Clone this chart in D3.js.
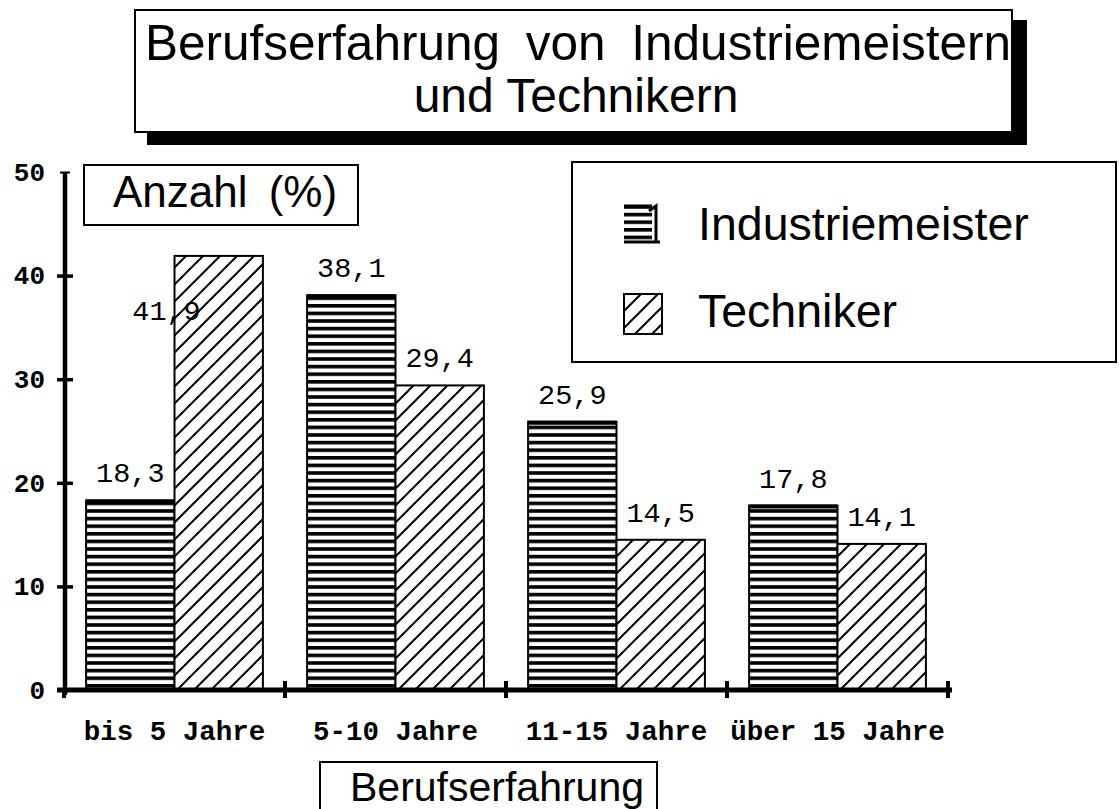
<!DOCTYPE html>
<html>
<head>
<meta charset="utf-8">
<script src="https://cdn.jsdelivr.net/npm/d3@7"></script>
<style>
html,body{margin:0;padding:0;background:#fff;}
svg{display:block;}
</style>
</head>
<body>
<svg id="chart" width="1119" height="809"></svg>
<script>
// ---- data ----
const categories = ["bis 5 Jahre", "5-10 Jahre", "11-15 Jahre", "über 15 Jahre"];
const seriesNames = ["Industriemeister", "Techniker"];
const industriemeister = [18.3, 38.1, 25.9, 17.8];
const techniker = [41.9, 29.4, 14.5, 14.1];
const yTicks = [0, 10, 20, 30, 40, 50];
const titleLines = ["Berufserfahrung von Industriemeistern", "und Technikern"];
const yTitle = "Anzahl (%)";
const xTitle = "Berufserfahrung";

const svg = d3.select("#chart");
const fmt = d3.formatLocale({decimal: ",", thousands: ".", grouping: [3], currency: ["", "€"]}).format(".1f");

// ---- patterns ----
const defs = svg.append("defs");
const ph = defs.append("pattern").attr("id", "hstripe")
  .attr("patternUnits", "userSpaceOnUse").attr("width", 8).attr("height", 7.6);
ph.append("rect").attr("width", 8).attr("height", 7.6).attr("fill", "#fff");
ph.append("rect").attr("y", 0).attr("width", 8).attr("height", 3.6).attr("fill", "#000");

const pd = defs.append("pattern").attr("id", "diag")
  .attr("patternUnits", "userSpaceOnUse").attr("width", 17).attr("height", 17);
pd.append("rect").attr("width", 17).attr("height", 17).attr("fill", "#fff");
pd.append("path").attr("d", "M-4,4 L4,-4 M0,17 L17,0 M13,21 L21,13")
  .attr("stroke", "#000").attr("stroke-width", 2);

const fills = ["url(#hstripe)", "url(#diag)"];

// ---- scales ----
const x0 = d3.scaleBand().domain(categories).range([64, 948]).paddingInner(0.2).paddingOuter(0.1);
const x1 = d3.scaleBand().domain(seriesNames).range([0, x0.bandwidth()]);
const y = d3.scaleLinear().domain([0, 50]).range([690, 172]);

const rows = categories.map((c, i) => ({cat: c, vals: [industriemeister[i], techniker[i]]}));

// ---- title box ----
svg.append("rect").attr("x", 147).attr("y", 20).attr("width", 880).attr("height", 125).attr("fill", "#000");
svg.append("rect").attr("x", 135).attr("y", 10).attr("width", 877).attr("height", 122)
  .attr("fill", "#fff").attr("stroke", "#000").attr("stroke-width", 2);
svg.append("text").attr("x", 578).attr("y", 60).attr("text-anchor", "middle")
  .attr("font-family", "Liberation Sans, Arial, sans-serif").attr("font-size", 49.5)
  .attr("word-spacing", 12).text(titleLines[0]);
svg.append("text").attr("x", 576).attr("y", 112).attr("text-anchor", "middle")
  .attr("font-family", "Liberation Sans, Arial, sans-serif").attr("font-size", 48)
  .text(titleLines[1]);
svg.append("rect").attr("x", 1013).attr("y", 20).attr("width", 14).attr("height", 125).attr("fill", "#000");

// ---- bars ----
const g = svg.append("g");
rows.forEach(r => {
  r.vals.forEach((v, j) => {
    const bx = x0(r.cat) + x1(seriesNames[j]);
    g.append("rect")
      .attr("x", bx).attr("y", y(v))
      .attr("width", x1.bandwidth()).attr("height", y(0) - y(v))
      .attr("fill", fills[j]).attr("stroke", "#000").attr("stroke-width", 2);
    if (j === 0) {
      g.append("line").attr("x1", bx).attr("x2", bx + x1.bandwidth())
        .attr("y1", y(v) + 1).attr("y2", y(v) + 1).attr("stroke", "#000").attr("stroke-width", 4);
    }
    let lx = bx + x1.bandwidth() / 2, ly = y(v) - 18;
    if (v === d3.max(techniker) && j === 1) { lx = bx - 8; ly = y(v) + 64; }
    g.append("text").attr("x", lx).attr("y", ly).attr("text-anchor", "middle")
      .attr("font-family", "Liberation Mono, Courier New, monospace").attr("font-size", 28.5)
      .text(fmt(v));
  });
});

// ---- y axis ----
const yAxis = svg.append("g").attr("transform", "translate(65,0)")
  .call(d3.axisLeft(y).tickValues(yTicks).tickSize(7).tickPadding(13).tickFormat(d3.format("d")));
yAxis.select(".domain").remove();
yAxis.append("line").attr("x1", 0).attr("x2", 0).attr("y1", y(50)).attr("y2", y(0) + 5)
  .attr("stroke", "#000").attr("stroke-width", 4.5);
yAxis.selectAll(".tick line").attr("x1", -8).attr("x2", 8).attr("stroke", "#000").attr("stroke-width", 3.5);
yAxis.selectAll(".tick").filter(d => d === 50).select("line").attr("x1", -5).attr("x2", 5).attr("stroke-width", 2);
yAxis.selectAll(".tick").filter(d => d === 0).select("line").attr("stroke-width", 0);
yAxis.selectAll(".tick text").attr("font-family", "Liberation Mono, Courier New, monospace")
  .attr("font-weight", "bold").attr("font-size", 26).attr("fill", "#000");

// ---- x axis ----
const xAxis = svg.append("g").attr("transform", `translate(0,${y(0)})`)
  .call(d3.axisBottom(x0).tickSize(0).tickPadding(0));
xAxis.select(".domain").remove();
xAxis.append("line").attr("x1", 57).attr("x2", 952).attr("y1", 0).attr("y2", 0)
  .attr("stroke", "#000").attr("stroke-width", 5);
const bounds = categories.map(c => x0(c) - x0.step() * x0.paddingInner() / 2).concat([x0(categories[3]) + x0.bandwidth() + x0.step() * x0.paddingInner() / 2]);
bounds.forEach((bx, i) => {
  xAxis.append("line").attr("x1", bx).attr("x2", bx).attr("y1", i === 0 ? -2 : -9).attr("y2", 8)
    .attr("stroke", "#000").attr("stroke-width", 4);
});
xAxis.selectAll(".tick text").attr("y", 50).attr("dy", 0)
  .attr("font-family", "Liberation Mono, Courier New, monospace")
  .attr("font-weight", "bold").attr("font-size", 27.5).attr("fill", "#000");

// ---- y title box ----
svg.append("rect").attr("x", 84).attr("y", 165).attr("width", 274).attr("height", 60)
  .attr("fill", "#fff").attr("stroke", "#000").attr("stroke-width", 2);
svg.append("text").attr("x", 225).attr("y", 207).attr("text-anchor", "middle")
  .attr("font-family", "Liberation Sans, Arial, sans-serif").attr("font-size", 44)
  .attr("word-spacing", 9).text(yTitle);

// ---- legend ----
svg.append("rect").attr("x", 572).attr("y", 162).attr("width", 544).attr("height", 200)
  .attr("fill", "#fff").attr("stroke", "#000").attr("stroke-width", 2);
const legY = [205, 294];
const legBase = [240, 327];
seriesNames.forEach((s, j) => {
  if (j === 0) {
    svg.append("rect").attr("x", 624).attr("y", legY[j]).attr("width", 28).attr("height", 38)
      .attr("fill", fills[j]);
    svg.append("path").attr("d", `M624,${legY[j] + 1} H652 M649,${legY[j] + 6} L656,${legY[j] + 1} V${legY[j] + 38} M624,${legY[j] + 37} H660`)
      .attr("fill", "none").attr("stroke", "#000").attr("stroke-width", 3);
  } else {
    svg.append("rect").attr("x", 624).attr("y", legY[j]).attr("width", 38).attr("height", 40)
      .attr("fill", fills[j]).attr("stroke", "#000").attr("stroke-width", 2);
  }
  svg.append("text").attr("x", 698).attr("y", legBase[j])
    .attr("font-family", "Liberation Sans, Arial, sans-serif").attr("font-size", 46.5).text(s);
});

// ---- x title box ----
svg.append("rect").attr("x", 320).attr("y", 762).attr("width", 337).attr("height", 60)
  .attr("fill", "#fff").attr("stroke", "#000").attr("stroke-width", 2);
svg.append("text").attr("x", 497).attr("y", 801).attr("text-anchor", "middle")
  .attr("font-family", "Liberation Sans, Arial, sans-serif").attr("font-size", 41).text(xTitle);
</script>
</body>
</html>
